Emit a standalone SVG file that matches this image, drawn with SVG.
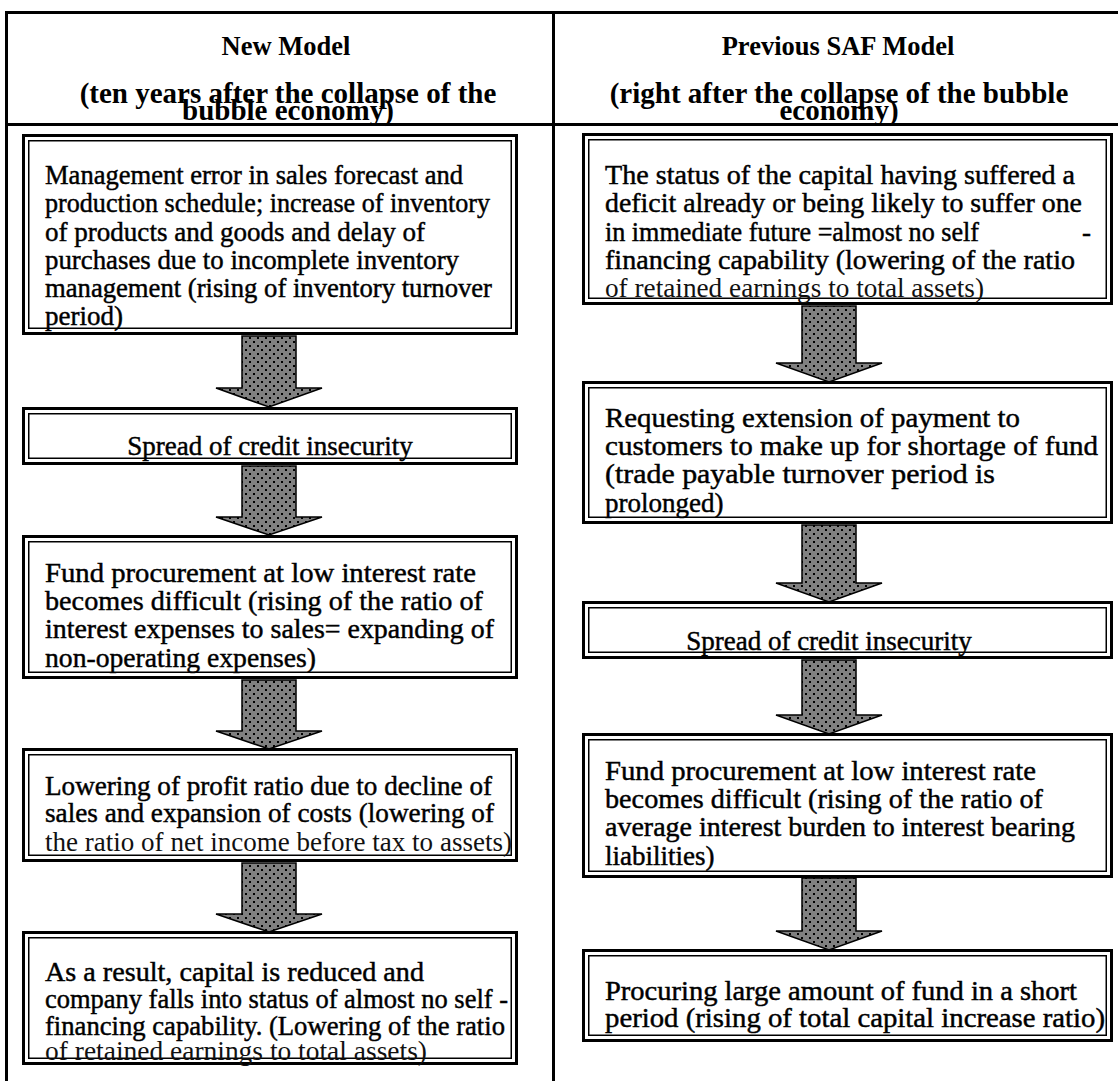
<svg xmlns="http://www.w3.org/2000/svg" width="1120" height="1081" viewBox="0 0 1120 1081">
<style>
.frame{stroke:#000;stroke-width:3;fill:none}
.bo{fill:#fff;stroke:#000;stroke-width:3}
.bi{fill:none;stroke:#000;stroke-width:1.5}
.h{font-family:"Liberation Serif","Times New Roman",serif;font-weight:bold;font-size:29px;fill:#000;text-anchor:middle}
.ht{font-size:26.5px}
.t{font-family:"Liberation Serif","Times New Roman",serif;font-size:27px;fill:#000;stroke:#000;stroke-width:0.45}
.tl{font-family:"Liberation Serif","Times New Roman",serif;font-size:27px;fill:#111}
.c{text-anchor:middle}
.arr{fill:url(#dots);stroke:#000;stroke-width:1.5;stroke-linejoin:miter}
</style>
<defs>
<pattern id="dots" width="8" height="8" patternUnits="userSpaceOnUse">
<rect width="8" height="8" fill="#808080"/>
<rect x="1" y="1" width="2" height="2" fill="#000"/>
<rect x="5" y="5" width="2" height="2" fill="#000"/>
</pattern>
</defs>
<rect width="1120" height="1081" fill="#fff"/>
<g id="table">
<line class="frame" x1="5" y1="12.5" x2="1118" y2="12.5"/>
<line class="frame" x1="5" y1="124.5" x2="1118" y2="124.5"/>
<line class="frame" x1="6.5" y1="11" x2="6.5" y2="1081"/>
<line class="frame" x1="553.5" y1="11" x2="553.5" y2="1081"/>
</g>
<g id="header-left">
<text class="h ht" x="286" y="55">New Model</text>
<text class="h" x="288" y="103">(ten years after the collapse of the</text>
<text class="h" x="288" y="120">bubble economy)</text>
</g>
<g id="header-right">
<text class="h ht" x="838" y="55">Previous SAF Model</text>
<text class="h" x="839" y="103">(right after the collapse of the bubble</text>
<text class="h" x="839" y="120">economy)</text>
</g>
<g id="L1">
<rect class="bo" x="23.5" y="135.5" width="493" height="198"/>
<rect class="bi" x="28.75" y="140.75" width="482.5" height="187.5"/>
<text class="t" x="45" y="184" textLength="418" lengthAdjust="spacingAndGlyphs">Management error in sales forecast and</text>
<text class="t" x="45" y="212" textLength="445" lengthAdjust="spacingAndGlyphs">production schedule; increase of inventory</text>
<text class="t" x="45" y="241" textLength="380" lengthAdjust="spacingAndGlyphs">of products and goods and delay of</text>
<text class="t" x="45" y="269" textLength="414" lengthAdjust="spacingAndGlyphs">purchases due to incomplete inventory</text>
<text class="t" x="45" y="297" textLength="447" lengthAdjust="spacingAndGlyphs">management (rising of inventory turnover</text>
<text class="t" x="45" y="325">period)</text>
</g>
<g id="L2">
<rect class="bo" x="23.5" y="408.5" width="493" height="55"/>
<rect class="bi" x="28.75" y="413.75" width="482.5" height="44.5"/>
<text class="t c" x="270" y="455">Spread of credit insecurity</text>
</g>
<g id="L3">
<rect class="bo" x="23.5" y="536.5" width="493" height="141"/>
<rect class="bi" x="28.75" y="541.75" width="482.5" height="130.5"/>
<text class="t" x="45" y="582" textLength="431" lengthAdjust="spacingAndGlyphs">Fund procurement at low interest rate</text>
<text class="t" x="45" y="610" textLength="438" lengthAdjust="spacingAndGlyphs">becomes difficult (rising of the ratio of</text>
<text class="t" x="45" y="638" textLength="449" lengthAdjust="spacingAndGlyphs">interest expenses to sales= expanding of</text>
<text class="t" x="45" y="667" textLength="271" lengthAdjust="spacingAndGlyphs">non-operating expenses)</text>
</g>
<g id="L4">
<rect class="bo" x="23.5" y="749.5" width="493" height="111"/>
<rect class="bi" x="28.75" y="754.75" width="482.5" height="100.5"/>
<text class="t" x="45" y="795" textLength="447" lengthAdjust="spacingAndGlyphs">Lowering of profit ratio due to decline of</text>
<text class="t" x="45" y="822" textLength="449" lengthAdjust="spacingAndGlyphs">sales and expansion of costs (lowering of</text>
<text class="tl" x="45" y="851" textLength="467" lengthAdjust="spacingAndGlyphs">the ratio of net income before tax to assets)</text>
</g>
<g id="L5">
<rect class="bo" x="23.5" y="932.5" width="493" height="131"/>
<rect class="bi" x="28.75" y="937.75" width="482.5" height="120.5"/>
<text class="t" x="45" y="981" textLength="379" lengthAdjust="spacingAndGlyphs">As a result, capital is reduced and</text>
<text class="t" x="45" y="1008" textLength="463" lengthAdjust="spacingAndGlyphs">company falls into status of almost no self -</text>
<text class="t" x="45" y="1035" textLength="460" lengthAdjust="spacingAndGlyphs">financing capability. (Lowering of the ratio</text>
<text class="tl" x="45" y="1060" textLength="382" lengthAdjust="spacingAndGlyphs">of retained earnings to total assets)</text>
</g>
<g id="R1">
<rect class="bo" x="583.5" y="134.5" width="528" height="169"/>
<rect class="bi" x="588.75" y="139.75" width="517.5" height="158.5"/>
<text class="t" x="605" y="184" textLength="470" lengthAdjust="spacingAndGlyphs">The status of the capital having suffered a</text>
<text class="t" x="605" y="212" textLength="477" lengthAdjust="spacingAndGlyphs">deficit already or being likely to suffer one</text>
<text class="t" x="605" y="241" textLength="374" lengthAdjust="spacingAndGlyphs">in immediate future =almost no self</text>
<text class="t" x="1082" y="241">-</text>
<text class="t" x="605" y="269" textLength="470" lengthAdjust="spacingAndGlyphs">financing capability (lowering of the ratio</text>
<text class="tl" x="605" y="297" textLength="379" lengthAdjust="spacingAndGlyphs">of retained earnings to total assets)</text>
</g>
<g id="R2">
<rect class="bo" x="583.5" y="382.5" width="528" height="140"/>
<rect class="bi" x="588.75" y="387.75" width="517.5" height="129.5"/>
<text class="t" x="605" y="427" textLength="415" lengthAdjust="spacingAndGlyphs">Requesting extension of payment to</text>
<text class="t" x="605" y="455" textLength="493" lengthAdjust="spacingAndGlyphs">customers to make up for shortage of fund</text>
<text class="t" x="605" y="483" textLength="390" lengthAdjust="spacingAndGlyphs">(trade payable turnover period is</text>
<text class="t" x="605" y="512">prolonged)</text>
</g>
<g id="R3">
<rect class="bo" x="583.5" y="602.5" width="528" height="55"/>
<rect class="bi" x="588.75" y="607.75" width="517.5" height="44.5"/>
<text class="t c" x="829" y="650">Spread of credit insecurity</text>
</g>
<g id="R4">
<rect class="bo" x="583.5" y="734.5" width="528" height="142"/>
<rect class="bi" x="588.75" y="739.75" width="517.5" height="131.5"/>
<text class="t" x="605" y="780" textLength="431" lengthAdjust="spacingAndGlyphs">Fund procurement at low interest rate</text>
<text class="t" x="605" y="808" textLength="438" lengthAdjust="spacingAndGlyphs">becomes difficult (rising of the ratio of</text>
<text class="t" x="605" y="836" textLength="470" lengthAdjust="spacingAndGlyphs">average interest burden to interest bearing</text>
<text class="t" x="605" y="865">liabilities)</text>
</g>
<g id="R5">
<rect class="bo" x="583.5" y="950.5" width="528" height="90"/>
<rect class="bi" x="588.75" y="955.75" width="517.5" height="79.5"/>
<text class="t" x="605" y="1000" textLength="472" lengthAdjust="spacingAndGlyphs">Procuring large amount of fund in a short</text>
<text class="t" x="605" y="1027" textLength="500" lengthAdjust="spacingAndGlyphs">period (rising of total capital increase ratio)</text>
</g>
<g id="connectors">
<polygon class="arr" points="242,336 296,336 296,388 322,388 269,407 216,388 242,388"/>
<polygon class="arr" points="242,466 296,466 296,517 322,517 269,535 216,517 242,517"/>
<polygon class="arr" points="242,680 296,680 296,731 322,731 269,749 216,731 242,731"/>
<polygon class="arr" points="242,863 296,863 296,914 322,914 269,932 216,914 242,914"/>
<polygon class="arr" points="802,306 856,306 856,363 882,363 829,382 776,363 802,363"/>
<polygon class="arr" points="802,525 856,525 856,583 882,583 829,602 776,583 802,583"/>
<polygon class="arr" points="802,660 856,660 856,715 882,715 829,734 776,715 802,715"/>
<polygon class="arr" points="802,878 856,878 856,931 882,931 829,950 776,931 802,931"/>
</g>
</svg>
